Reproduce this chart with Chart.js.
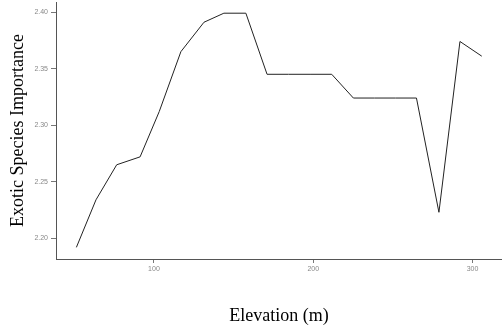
<!DOCTYPE html>
<html>
<head>
<meta charset="utf-8">
<script src="https://cdn.jsdelivr.net/npm/chart.js@4"></script>
<style>
html,body{margin:0;padding:0;background:#fff;}
#wrap{width:502px;height:330px;}
</style>
</head>
<body>
<div id="wrap"><canvas id="c" width="502" height="330"></canvas></div>
<script>
const elevation = [51.3, 63.6, 76.6, 91.3, 103.3, 116.9, 131.4, 143.9, 157.7, 171.0, 184.5, 198.0, 211.6, 225.2, 238.4, 251.6, 264.8, 278.9, 292.1, 305.8];
const importance = [2.192, 2.234, 2.265, 2.272, 2.312, 2.365, 2.391, 2.399, 2.399, 2.345, 2.345, 2.345, 2.345, 2.324, 2.324, 2.324, 2.324, 2.223, 2.374, 2.361];
const xTicks = [100, 200, 300];
const yTicks = [2.20, 2.25, 2.30, 2.35, 2.40];
const xTitle = 'Elevation (m)';
const yTitle = 'Exotic Species Importance';

const points = elevation.map((x, i) => ({x: x, y: importance[i]}));

new Chart(document.getElementById('c'), {
  type: 'line',
  data: {
    datasets: [{
      data: points,
      borderColor: '#222',
      borderWidth: 1,
      pointRadius: 0,
      tension: 0,
      fill: false
    }]
  },
  options: {
    responsive: false,
    animation: false,
    layout: {padding: {top: 2, right: 0, left: 0, bottom: 0}},
    plugins: {legend: {display: false}, tooltip: {enabled: false}},
    scales: {
      x: {
        type: 'linear',
        min: 38.5,
        max: 318.5,
        afterBuildTicks: s => { s.ticks = xTicks.map(v => ({value: v})); },
        afterFit: s => { s.height = 71; s.paddingLeft = 0; s.paddingRight = 0; },
        ticks: {
          color: '#888',
          font: {family: 'Liberation Sans', size: 7},
          padding: 2,
          callback: v => String(v)
        },
        grid: {drawOnChartArea: false, drawTicks: true, tickLength: 4, color: '#777', lineWidth: 1},
        border: {display: true, color: '#555', width: 1},
        title: {
          display: true,
          text: xTitle,
          color: '#000',
          font: {family: 'Liberation Serif', size: 18},
          padding: {top: 0, bottom: 3}
        }
      },
      y: {
        type: 'linear',
        min: 2.1817,
        max: 2.4089,
        afterBuildTicks: s => { s.ticks = yTicks.map(v => ({value: v})); },
        afterFit: s => { s.width = 56; s.paddingTop = 0; s.paddingBottom = 0; },
        ticks: {
          color: '#888',
          font: {family: 'Liberation Sans', size: 7},
          padding: 3,
          callback: v => Number(v).toFixed(2)
        },
        grid: {drawOnChartArea: false, drawTicks: true, tickLength: 5, color: '#777', lineWidth: 1},
        border: {display: true, color: '#555', width: 1},
        title: {
          display: true,
          text: yTitle,
          color: '#000',
          font: {family: 'Liberation Serif', size: 18},
          padding: {top: 7, bottom: 0}
        }
      }
    }
  }
});
</script>
</body>
</html>
